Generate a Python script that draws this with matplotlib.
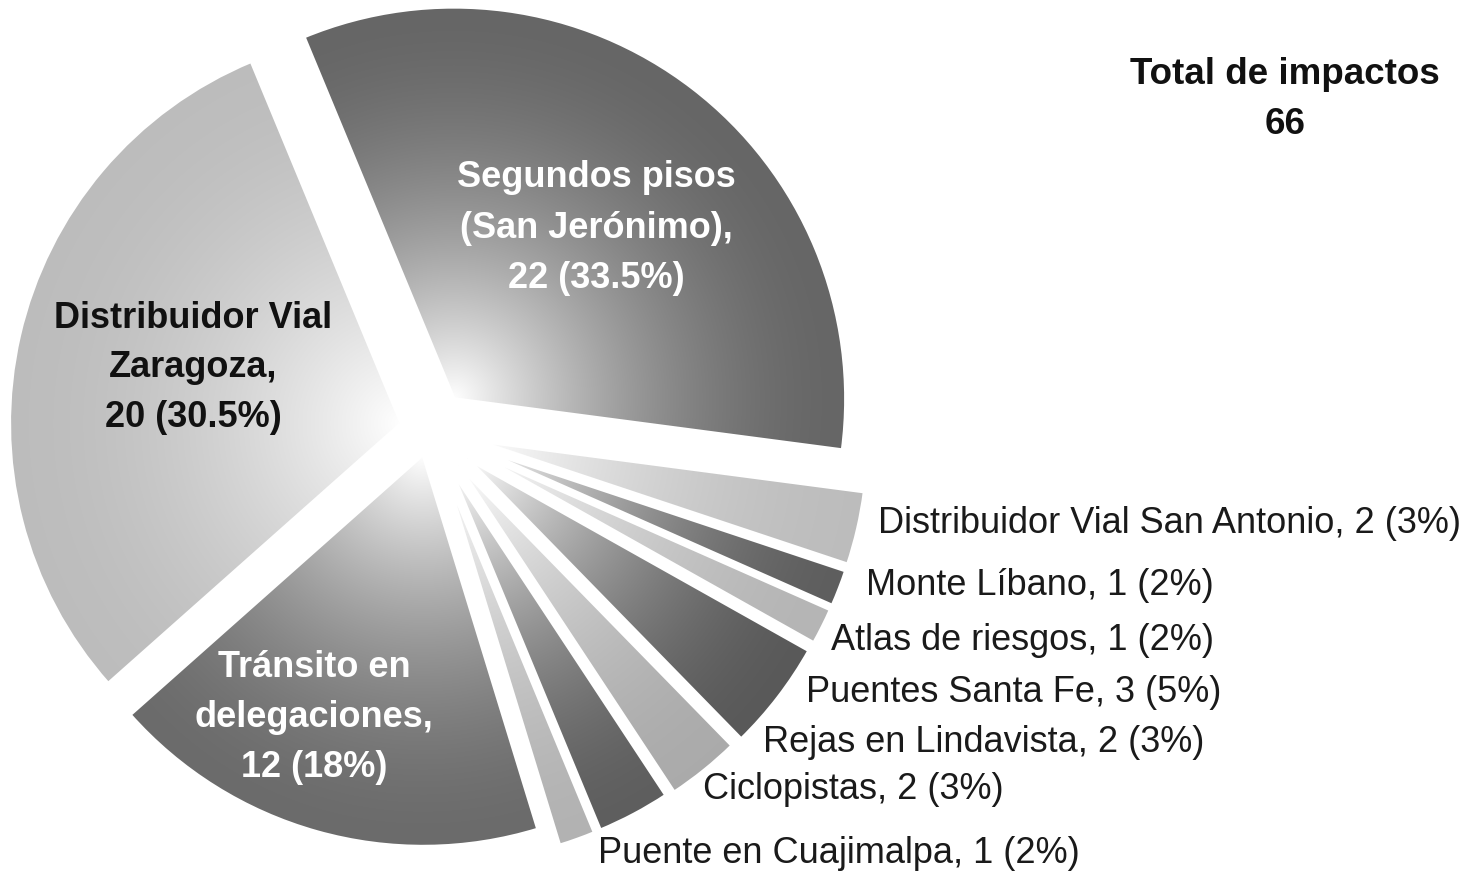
import numpy as np
import matplotlib
matplotlib.use("Agg")
import matplotlib.pyplot as plt
from matplotlib.patches import Wedge

# ---------------- data ----------------
categories = ["Segundos pisos (San Jerónimo)", "Distribuidor Vial San Antonio",
              "Monte Líbano", "Atlas de riesgos", "Puentes Santa Fe",
              "Rejas en Lindavista", "Ciclopistas", "Puente en Cuajimalpa",
              "Tránsito en delegaciones", "Distribuidor Vial Zaragoza"]
values = [22, 2, 1, 1, 3, 2, 2, 1, 12, 20]
pct_labels = ["33.5%", "3%", "2%", "2%", "5%", "3%", "3%", "2%", "18%", "30.5%"]
total = 66
title_text = "Total de impactos"

# wrapped names for the labels drawn inside the big slices
inner_names = {0: ["Segundos pisos", "(San Jerónimo),"],
               8: ["Tránsito en", "delegaciones,"],
               9: ["Distribuidor Vial", "Zaragoza,"]}

# ---------------- style ----------------
rim_colors = [0.40, 0.74, 0.37, 0.71, 0.35, 0.67, 0.37, 0.70, 0.42, 0.74]
explode = [0.10, 0.12, 0.12, 0.12, 0.12, 0.115, 0.11, 0.11, 0.065, 0.075]

W, H = 1473, 877
plt.rcParams["font.family"] = ["Liberation Sans", "DejaVu Sans"]
fig = plt.figure(figsize=(W / 100, H / 100), dpi=100)
ax = fig.add_axes([0, 0, 1, 1])

def Y(ypx):
    return H - ypx

cx, cy, R = 430, Y(430), 392
wedges, _ = ax.pie(values, startangle=112.5, counterclock=False,
                   explode=[e * R for e in explode],
                   radius=R, center=(cx, cy),
                   colors=[(g, g, g) for g in rim_colors],
                   wedgeprops=dict(linewidth=0))
ax.set_xlim(0, W)
ax.set_ylim(0, H)
ax.set_aspect("equal")
ax.axis("off")

# radial gradient inside every slice (light near the centre, rim colour outside)
xs = np.arange(W) + 0.5
ys = np.arange(H) + 0.5
XX, YY = np.meshgrid(xs, ys)
for w, rim in zip(wedges, rim_colors):
    wx, wy = w.center
    d = np.hypot(XX - wx, YY - wy)
    t = np.clip(d / w.r, 0, 1)
    g = rim + (1 - rim) * (1 - t) ** 1.8
    img = np.dstack([g, g, g])
    im = ax.imshow(img, extent=(0, W, 0, H), origin="lower",
                   interpolation="bilinear", zorder=1)
    im.set_clip_path(w)
    outline = Wedge((wx, wy), w.r, w.theta1, w.theta2, fill=False,
                    edgecolor="white", linewidth=2.5, zorder=2)
    ax.add_patch(outline)

# ---------------- labels ----------------
fs = 26
inner_pos = {0: (596, [187, 238, 288], "white"),
             8: (314, [677, 727, 777], "white"),
             9: (193, [328, 377, 427], "#111111")}
for i, (xc, bases, col) in inner_pos.items():
    lines = inner_names[i] + [f"{values[i]} ({pct_labels[i]})"]
    for line, b in zip(lines, bases):
        ax.text(xc, Y(b), line, ha="center", va="baseline", fontsize=fs,
                fontweight="bold", color=col, zorder=5)

outer_pos = {1: (878, 533), 2: (866, 595), 3: (831, 650), 4: (806, 702),
             5: (763, 752), 6: (703, 799), 7: (598, 863)}
for i, (x0, b) in outer_pos.items():
    ax.text(x0, Y(b), f"{categories[i]}, {values[i]} ({pct_labels[i]})",
            ha="left", va="baseline", fontsize=fs, color="#1a1a1a", zorder=5)

ax.text(1285, Y(84), title_text, ha="center", va="baseline", fontsize=26.5,
        fontweight="bold", color="#111111")
ax.text(1285, Y(134), str(total), ha="center", va="baseline", fontsize=26.5,
        fontweight="bold", color="#111111")

fig.savefig("out.png", dpi=100, facecolor="white")
